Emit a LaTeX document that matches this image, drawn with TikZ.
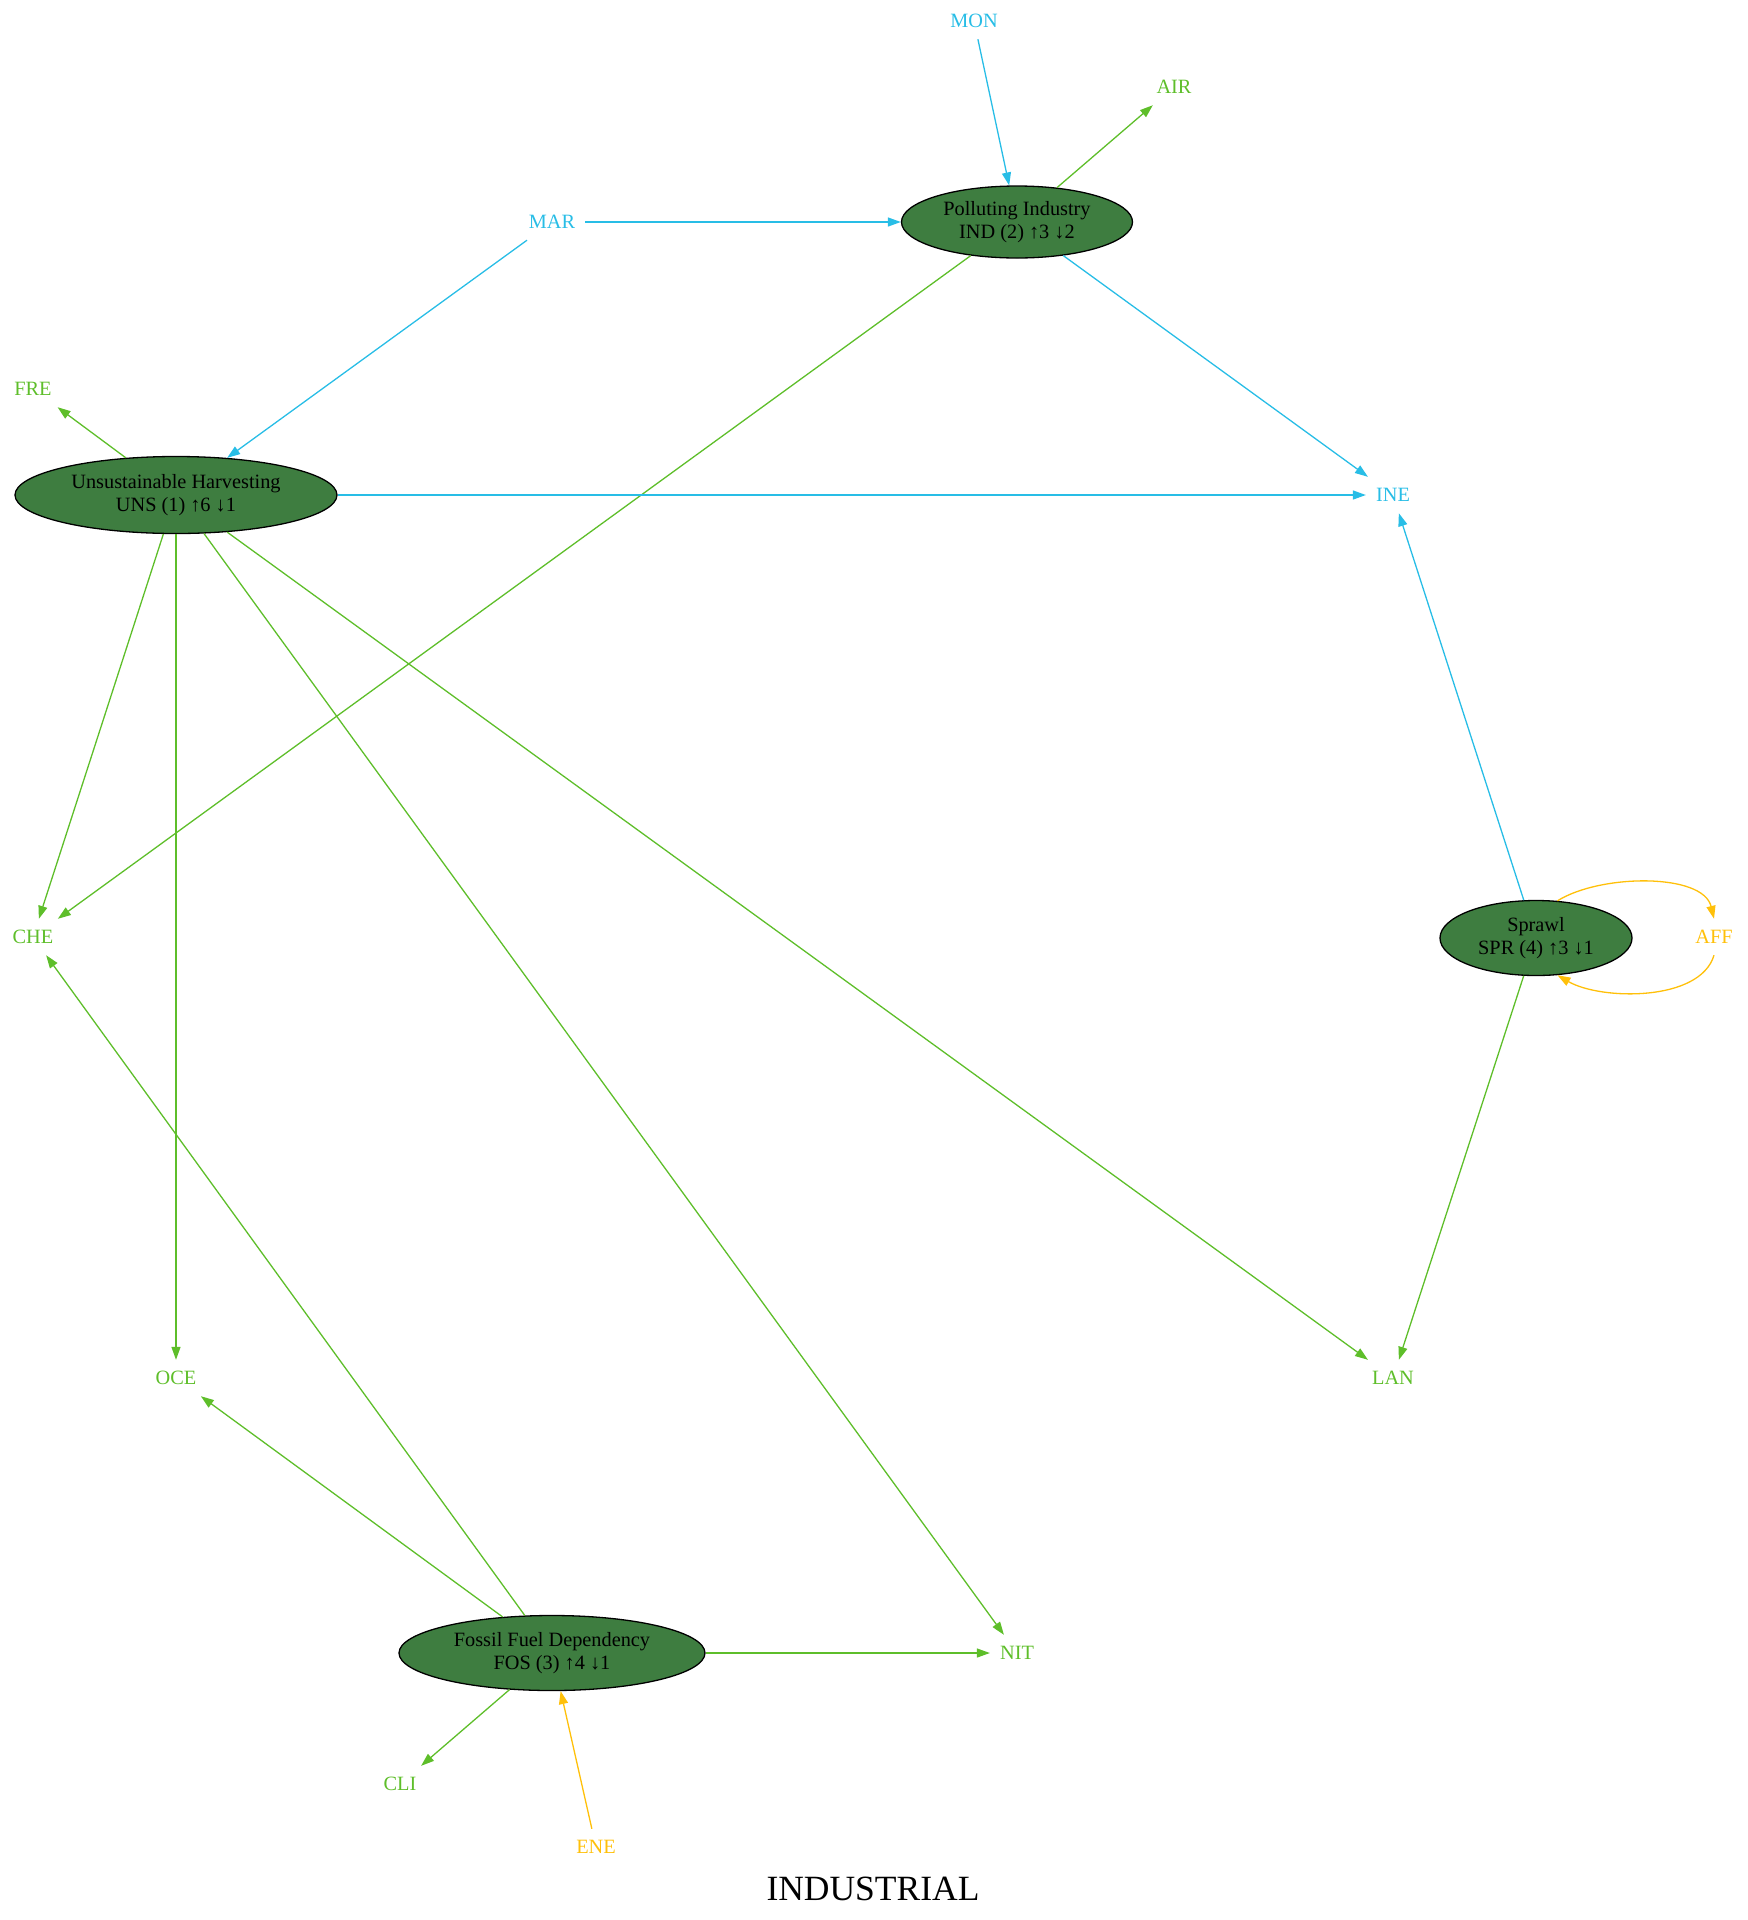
\documentclass[tikz,border=0pt]{standalone}
\usepackage{fontspec}
\setmainfont{Liberation Serif}
\usetikzlibrary{arrows.meta,shapes.geometric}

\definecolor{cblue}{RGB}{40,189,230}
\definecolor{cgreen}{RGB}{94,190,42}
\definecolor{cyel}{RGB}{255,192,10}
\definecolor{cfill}{RGB}{62,125,64}

\tikzset{
  lbl/.style={rectangle, inner xsep=10pt, inner ysep=0pt, minimum height=36pt,
    font=\fontsize{20.3}{23.3}\selectfont},
  hub/.style={ellipse, draw=black, line width=1.3pt, fill=cfill, inner sep=0pt,
    align=center, font=\fontsize{20.3}{23.3}\selectfont},
  edge/.style={line width=1.3pt, -{Triangle[length=13pt,width=9pt]}},
  eblue/.style={edge, draw=cblue},
  egreen/.style={edge, draw=cgreen},
  eyel/.style={edge, draw=cyel},
}

\begin{document}
\begin{tikzpicture}[x=1pt,y=-1pt]
  \useasboundingbox (0,0) rectangle (1748,1920);

  % central factors
  \node[hub, minimum width=231pt, minimum height=72pt] (IND) at (1017,222)
    {Polluting Industry\\IND (2) ↑3 ↓2};
  \node[hub, minimum width=322pt, minimum height=77pt] (UNS) at (176,495)
    {Unsustainable Harvesting\\UNS (1) ↑6 ↓1};
  \node[hub, minimum width=192pt, minimum height=75pt] (SPR) at (1536,938)
    {Sprawl\\SPR (4) ↑3 ↓1};
  \node[hub, minimum width=306pt, minimum height=75pt] (FOS) at (552,1653)
    {Fossil Fuel Dependency\\FOS (3) ↑4 ↓1};

  % surrounding codes
  \node[lbl, text=cblue]  (MON) at (974,21)   {MON};
  \node[lbl, text=cgreen] (AIR) at (1174,87)  {AIR};
  \node[lbl, text=cblue]  (MAR) at (552,222)  {MAR};
  \node[lbl, text=cgreen] (FRE) at (33,389)   {FRE};
  \node[lbl, text=cblue]  (INE) at (1393,495) {INE};
  \node[lbl, text=cgreen] (CHE) at (33,937)   {CHE};
  \node[lbl, text=cyel]   (AFF) at (1714,937) {AFF};
  \node[lbl, text=cgreen] (OCE) at (176,1378) {OCE};
  \node[lbl, text=cgreen] (LAN) at (1393,1378){LAN};
  \node[lbl, text=cgreen] (NIT) at (1017,1653){NIT};
  \node[lbl, text=cgreen] (CLI) at (400,1784) {CLI};
  \node[lbl, text=cyel]   (ENE) at (596,1847) {ENE};

  \node[font=\fontsize{35.5}{40}\selectfont] (title) at (873,1889) {INDUSTRIAL};

  % connectors
  \draw[eblue]  (MON) -- (IND);
  \draw[egreen] (IND) -- (AIR);
  \draw[eblue]  (MAR) -- (IND);
  \draw[eblue]  (MAR) -- (UNS);
  \draw[egreen] (IND) -- (CHE);
  \draw[eblue]  (IND) -- (INE);
  \draw[egreen] (UNS) -- (FRE);
  \draw[eblue]  (UNS) -- (INE);
  \draw[egreen] (UNS) -- (CHE);
  \draw[egreen] (UNS) -- (OCE);
  \draw[egreen] (UNS) -- (NIT);
  \draw[egreen] (UNS) -- (LAN);
  \draw[eblue]  (SPR) -- (INE);
  \draw[egreen] (SPR) -- (LAN);
  \draw[egreen] (FOS) -- (CHE);
  \draw[egreen] (FOS) -- (OCE);
  \draw[egreen] (FOS) -- (NIT);
  \draw[egreen] (FOS) -- (CLI);
  \draw[eyel]   (ENE) -- (FOS);
  \draw[eyel]   (SPR.60) .. controls +(43,-27) and +(-11,-46) .. (AFF.north);
  \draw[eyel]   (AFF.south) .. controls +(-14,47) and +(43,25) .. (SPR.-60);
\end{tikzpicture}
\end{document}
